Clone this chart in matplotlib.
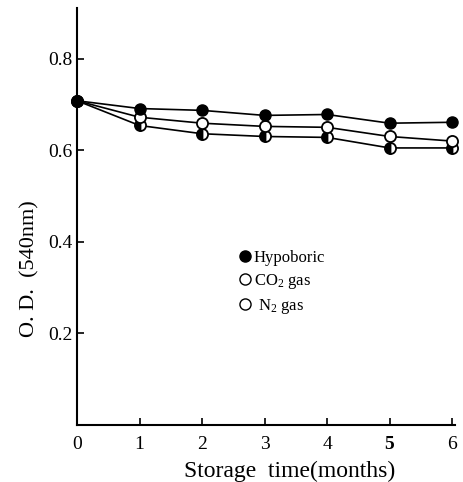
import matplotlib
matplotlib.use('Agg')
import matplotlib.pyplot as plt
from matplotlib.lines import Line2D

plt.rcParams['font.family'] = ['Liberation Serif', 'DejaVu Serif']
plt.rcParams['mathtext.fontset'] = 'custom'
plt.rcParams['mathtext.rm'] = 'Liberation Serif'
plt.rcParams['mathtext.it'] = 'Liberation Serif'

# storage time (months) and O.D. readings
months = [0, 1, 2, 3, 4, 5, 6]
hypoboric = [0.708, 0.691, 0.687, 0.676, 0.678, 0.659, 0.661]
co2_gas = [0.708, 0.672, 0.659, 0.652, 0.650, 0.630, 0.620]
n2_gas = [0.708, 0.654, 0.636, 0.630, 0.628, 0.605, 0.605]

x_ticks = [0, 1, 2, 3, 4, 5, 6]
y_ticks = [0.2, 0.4, 0.6, 0.8]
y_tick_labels = ['0.2', '0.4', '0.6', '0.8']

fig = plt.figure(figsize=(4.64, 4.82), dpi=100)
ax = fig.add_axes([0.166, 0.118, 0.815, 0.865])

ms = 8
ax.plot(months, n2_gas, color='black', linewidth=1.2, marker='o',
        markersize=ms, fillstyle='left', markerfacecolor='black',
        markerfacecoloralt='white', markeredgecolor='black',
        markeredgewidth=1.3, zorder=3, clip_on=False)
ax.plot(months, co2_gas, color='black', linewidth=1.2, marker='o',
        markersize=ms, markerfacecolor='white', markeredgecolor='black',
        markeredgewidth=1.3, zorder=3, clip_on=False)
ax.plot(months, hypoboric, color='black', linewidth=1.2, marker='o',
        markersize=ms, markerfacecolor='black', markeredgecolor='black',
        zorder=4, clip_on=False)

ax.set_xlim(0, 6.05)
ax.set_ylim(0, 0.91)
ax.set_xticks(x_ticks)
ax.set_yticks(y_ticks)
ax.set_yticklabels(y_tick_labels)
ax.tick_params(direction='in', length=5, width=1.2, labelsize=14)
ax.tick_params(axis='x', pad=8)
for lab in ax.get_xticklabels():
    if lab.get_text() == '5':
        lab.set_fontweight('bold')

ax.spines['top'].set_visible(False)
ax.spines['right'].set_visible(False)
ax.spines['left'].set_linewidth(1.5)
ax.spines['bottom'].set_linewidth(1.5)

ax.set_xlabel('Storage  time(months)', fontsize=17)
ax.xaxis.set_label_coords(0.563, -0.085)
ax.set_ylabel('O. D.  (540nm)', fontsize=16)
ax.yaxis.set_label_coords(-0.1, 0.376)

handles = [
    Line2D([], [], linestyle='none', marker='o', markersize=8,
           markerfacecolor='black', markeredgecolor='black'),
    Line2D([], [], linestyle='none', marker='o', markersize=8,
           markerfacecolor='white', markeredgecolor='black'),
    Line2D([], [], linestyle='none', marker='o', markersize=8,
           markerfacecolor='white', markeredgecolor='black'),
]
ax.legend(handles, ['Hypoboric', 'CO$_2$ gas', ' N$_2$ gas'],
          loc='upper left', bbox_to_anchor=(0.41, 0.44), frameon=False,
          fontsize=12, handlelength=0.6, handletextpad=0.2,
          labelspacing=0.35, borderpad=0)

fig.savefig('out.png', dpi=100)
